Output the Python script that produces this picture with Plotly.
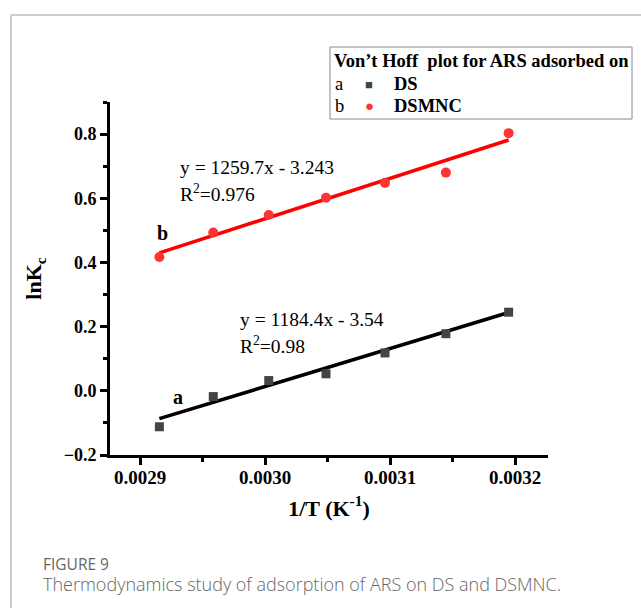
import numpy as np
import plotly.graph_objects as go

# Data
inv_T = [0.0029155, 0.0029586, 0.0030030, 0.0030488, 0.0030960, 0.0031447, 0.0031949]
lnK_DS = [-0.112, -0.018, 0.032, 0.053, 0.118, 0.178, 0.245]
lnK_DSMNC = [0.417, 0.493, 0.548, 0.602, 0.648, 0.680, 0.803]
fit_DS = (1184.4, -3.54)
fit_DSMNC = (1259.7, -3.243)

SERIF = "Liberation Serif"
W, H = 641, 608
L, R, T, B = 110, 548, 102, 455  # plot area in pixels

fig = go.Figure()

x_fit = np.array([inv_T[0], inv_T[-1]])
fig.add_trace(go.Scatter(x=x_fit, y=fit_DSMNC[0] * x_fit + fit_DSMNC[1], mode="lines",
                         line=dict(color="#ff0000", width=3.5), showlegend=False))
fig.add_trace(go.Scatter(x=x_fit, y=fit_DS[0] * x_fit + fit_DS[1], mode="lines",
                         line=dict(color="#000000", width=3.5), showlegend=False))
fig.add_trace(go.Scatter(x=inv_T, y=lnK_DSMNC, mode="markers",
                         marker=dict(symbol="circle", size=10, color="#ff3333"), showlegend=False))
fig.add_trace(go.Scatter(x=inv_T, y=lnK_DS, mode="markers",
                         marker=dict(symbol="square", size=9, color="#444444"), showlegend=False))

fig.update_xaxes(range=[0.002876, 0.0032264], tickvals=[0.0029, 0.0030, 0.0031, 0.0032],
                 ticktext=["0.0029", "0.0030", "0.0031", "0.0032"],
                 showline=True, linecolor="black", linewidth=3, showgrid=False, zeroline=False,
                 ticks="outside", ticklen=7, tickwidth=3, tickcolor="black",
                 tickfont=dict(family=SERIF, size=19, color="black", weight="bold"),
                 ticklabelstandoff=-4,
                 minor=dict(ticks="outside", ticklen=4, tickwidth=3, tickcolor="black", dtick=0.00005),
                 title=dict(text="1/T (K<sup>-1</sup>)", font=dict(family=SERIF, size=22, color="black", weight="bold"),
                            standoff=14))
fig.update_yaxes(range=[-0.2, 0.9], tickvals=[-0.2, 0.0, 0.2, 0.4, 0.6, 0.8],
                 ticktext=["\u22120.2", "0.0", "0.2", "0.4", "0.6", "0.8"],
                 showline=True, linecolor="black", linewidth=3, showgrid=False, zeroline=False,
                 ticks="outside", ticklen=7, tickwidth=3, tickcolor="black",
                 tickfont=dict(family=SERIF, size=18, color="black", weight="bold"),
                 minor=dict(ticks="outside", ticklen=4, tickwidth=3, tickcolor="black", dtick=0.1),
                 title=dict(text="lnK<sub>c</sub>", font=dict(family=SERIF, size=22, color="black", weight="bold"),
                            standoff=16))

def px(xp): return (xp - L) / (R - L)
def py(yp): return (B - yp) / (B - T)

ann = []
def t(x, y, text, size=17, bold=False, color="black", family=SERIF, weight=None):
    w = weight if weight is not None else ("bold" if bold else "normal")
    ann.append(dict(x=px(x), y=py(y), xref="paper", yref="paper", text=text, showarrow=False,
                    xanchor="left", yanchor="middle",
                    font=dict(family=family, size=size, color=color, weight=w)))

t(178, 167, "y = 1259.7x - 3.243", size=19.5)
t(178, 193, "R<sup>2</sup>=0.976", size=19.5)
t(155, 233, "b", bold=True, size=20)
t(238, 319, "y = 1184.4x - 3.54", size=19.5)
t(238, 345, "R<sup>2</sup>=0.98", size=19.5)
t(171, 397, "a", bold=True, size=20)

# Legend box contents
t(332, 61, "Von\u2019t Hoff  plot for ARS adsorbed on", bold=True, size=18.5)
t(333, 84, "a", size=18.5)
t(363, 84, "\u25a0", size=13, color="#444444")
t(392, 84, "DS", bold=True, size=18.5)
t(333, 106, "b", size=18.5)
t(363, 106, "\u25cf", size=15, color="#ff3333")
t(392, 106, "DSMNC", bold=True, size=18.5)

# Caption
t(41, 564, "FIGURE 9", size=15.5, color="#666666", family="Open Sans")
t(41, 584, "Thermodynamics study of adsorption of ARS on DS and DSMNC.", size=18,
  color="#666666", family="Open Sans", weight=300)

shapes = [
    dict(type="rect", xref="paper", yref="paper", x0=px(330), x1=px(632), y0=py(47), y1=py(119),
         line=dict(color="#888888", width=1)),
    dict(type="line", xref="paper", yref="paper", x0=px(11), x1=px(W), y0=py(15), y1=py(15),
         line=dict(color="#cccccc", width=2)),
    dict(type="line", xref="paper", yref="paper", x0=px(11), x1=px(11), y0=py(15), y1=py(H),
         line=dict(color="#cccccc", width=2)),
]

fig.update_layout(width=W, height=H, margin=dict(l=L, r=W - R, t=T, b=H - B),
                  plot_bgcolor="white", paper_bgcolor="white", showlegend=False,
                  annotations=ann, shapes=shapes)
fig.write_html("out.html")
